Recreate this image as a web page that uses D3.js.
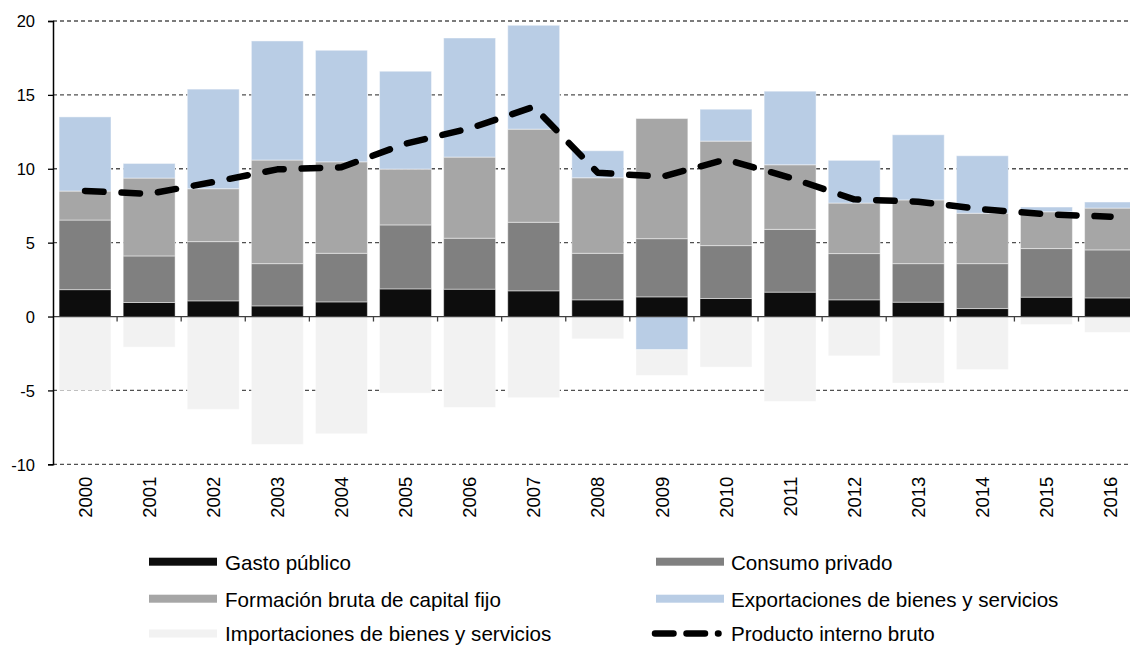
<!DOCTYPE html>
<html>
<head>
<meta charset="utf-8">
<script src="https://cdn.jsdelivr.net/npm/d3@7"></script>
<style>
  html, body { margin: 0; padding: 0; background: #fff; }
  svg { display: block; font-family: "Liberation Sans", Arial, sans-serif; }
</style>
</head>
<body>
<svg id="chart" width="1130" height="646"></svg>
<script>
// ---- data ----
const years = ["2000","2001","2002","2003","2004","2005","2006","2007","2008","2009","2010","2011","2012","2013","2014","2015","2016"];
const gastoPublico = [1.82, 0.95, 1.06, 0.72, 0.99, 1.87, 1.85, 1.74, 1.13, 1.33, 1.22, 1.65, 1.13, 0.97, 0.54, 1.31, 1.26];
const consumoPrivado = [4.71, 3.15, 4.01, 2.86, 3.29, 4.33, 3.45, 4.64, 3.15, 3.94, 3.58, 4.25, 3.13, 2.61, 3.04, 3.29, 3.25];
const formacionBruta = [1.96, 5.27, 3.58, 7.01, 6.19, 3.78, 5.49, 6.30, 5.11, 8.13, 7.07, 4.37, 3.42, 4.31, 3.41, 2.49, 2.83];
const exportaciones = [5.02, 0.99, 6.74, 8.06, 7.55, 6.62, 8.06, 7.03, 1.83, -2.25, 2.16, 4.98, 2.89, 4.41, 3.89, 0.32, 0.41];
const importaciones = [-5.00, -2.07, -6.28, -8.65, -7.93, -5.18, -6.15, -5.49, -1.51, -1.74, -3.42, -5.74, -2.66, -4.50, -3.58, -0.54, -1.08];
const pib = [8.5, 8.3, 9.1, 9.96, 10.1, 11.7, 12.73, 14.19, 9.73, 9.46, 10.63, 9.4, 7.93, 7.77, 7.26, 6.92, 6.76];
const yTicks = [-10, -5, 0, 5, 10, 15, 20];
const yTickLabels = ["-10", "-5", "0", "5", "10", "15", "20"];

const seriesNames = ["Gasto público", "Consumo privado", "Formación bruta de capital fijo", "Exportaciones de bienes y servicios", "Importaciones de bienes y servicios"];
const seriesKeys = ["gasto", "consumo", "formacion", "export", "import"];
const seriesColors = ["#0d0d0d", "#808080", "#a6a6a6", "#b9cde5", "#f2f2f2"];
const lineName = "Producto interno bruto";

// ---- build table ----
const table = years.map((yr, i) => ({
  year: yr,
  gasto: gastoPublico[i],
  consumo: consumoPrivado[i],
  formacion: formacionBruta[i],
  export: exportaciones[i],
  import: importaciones[i]
}));

const svg = d3.select("#chart");
const plotL = 53, plotR = 1142.6, plotT = 21, plotB = 464.3;

const x = d3.scaleBand().domain(years).range([plotL, plotR]).paddingInner(0.19).paddingOuter(0.095);
const y = d3.scaleLinear().domain([-10, 20]).range([plotB, plotT]);

// gridlines
svg.append("g").selectAll("line").data(yTicks.filter(t => t !== 0)).join("line")
  .attr("x1", plotL).attr("x2", 1130)
  .attr("y1", d => y(d)).attr("y2", d => y(d))
  .attr("stroke", "#505050").attr("stroke-width", 1.3).attr("stroke-dasharray", "4,3");

// stacked bars
const stack = d3.stack().keys(seriesKeys).offset(d3.stackOffsetDiverging);
const stacked = stack(table);
const colorOf = d3.scaleOrdinal().domain(seriesKeys).range(seriesColors);

svg.append("g").selectAll("g").data(stacked).join("g")
  .attr("fill", d => colorOf(d.key))
  .selectAll("rect").data(d => d).join("rect")
  .attr("x", d => x(d.data.year))
  .attr("width", x.bandwidth())
  .attr("y", d => y(Math.max(d[0], d[1])))
  .attr("height", d => Math.abs(y(d[0]) - y(d[1])))
  .attr("stroke", "rgba(255,255,255,0.45)")
  .attr("stroke-width", 1);

// x axis (zero line) with ticks between categories
const boundaries = years.slice(1).map(yr => x(yr) - x.step() * x.paddingInner() / 2);
svg.append("line")
  .attr("x1", plotL).attr("x2", 1130)
  .attr("y1", y(0)).attr("y2", y(0))
  .attr("stroke", "#404040").attr("stroke-width", 1.3);
svg.append("g").selectAll("line").data(boundaries).join("line")
  .attr("x1", d => d).attr("x2", d => d)
  .attr("y1", y(0)).attr("y2", y(0) + 5)
  .attr("stroke", "#404040").attr("stroke-width", 1.3);

// y axis
const yAxis = d3.axisLeft(y).tickValues(yTicks).tickSize(5)
  .tickFormat((d, i) => yTickLabels[yTicks.indexOf(d)]);
const yg = svg.append("g").attr("transform", `translate(${plotL},0)`).call(yAxis);
yg.select(".domain").attr("stroke", "#000").attr("stroke-width", 1.5);
yg.selectAll(".tick line").attr("stroke", "#000").attr("stroke-width", 1.3);
yg.selectAll(".tick text").attr("font-size", "16.5px").attr("fill", "#000")
  .attr("font-family", "Liberation Sans, Arial, sans-serif").attr("x", -18).attr("dy", "0.36em");

// x labels
svg.append("g").selectAll("text").data(years).join("text")
  .attr("transform", d => `translate(${x(d) + x.bandwidth() / 2},476.7) rotate(-90)`)
  .attr("text-anchor", "end")
  .attr("dy", "0.36em")
  .attr("font-size", "18.5px")
  .attr("fill", "#000")
  .text(d => d);

// PIB line
const line = d3.line().x((d, i) => x(years[i]) + x.bandwidth() / 2).y(d => y(d));
svg.append("path").datum(pib)
  .attr("d", line)
  .attr("fill", "none")
  .attr("stroke", "#000")
  .attr("stroke-width", 6.5)
  .attr("stroke-linecap", "round")
  .attr("stroke-linejoin", "round")
  .attr("stroke-dasharray", "18.5,18");

// legend
const legendItems = [
  {name: seriesNames[0], color: seriesColors[0], col: 0, row: 0},
  {name: seriesNames[1], color: seriesColors[1], col: 1, row: 0},
  {name: seriesNames[2], color: seriesColors[2], col: 0, row: 1},
  {name: seriesNames[3], color: seriesColors[3], col: 1, row: 1},
  {name: seriesNames[4], color: seriesColors[4], col: 0, row: 2},
  {name: lineName, color: "#000", col: 1, row: 2, line: true}
];
const colX = [149, 656];
const rowY = [561.7, 598.7, 633.5];
const lg = svg.append("g").selectAll("g").data(legendItems).join("g")
  .attr("transform", d => `translate(${colX[d.col]},${rowY[d.row]})`);
lg.filter(d => !d.line).append("rect")
  .attr("x", 0).attr("y", -4).attr("width", 68).attr("height", 8)
  .attr("fill", d => d.color);
lg.filter(d => d.line).append("line")
  .attr("x1", -1).attr("x2", 62.5).attr("y1", 0).attr("y2", 0)
  .attr("stroke", "#000").attr("stroke-width", 6.5)
  .attr("stroke-linecap", "round").attr("stroke-dasharray", "18.5,13");
lg.append("text")
  .attr("x", d => d.col === 0 ? 76 : 75)
  .attr("y", d => d.row === 2 ? 7.5 : 8.5)
  .attr("font-size", "20.6px")
  .attr("fill", "#000")
  .text(d => d.name);
</script>
</body>
</html>
